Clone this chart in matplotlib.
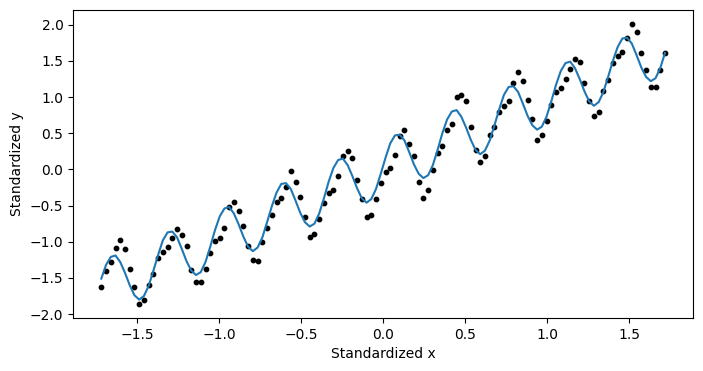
import numpy as np
import matplotlib
matplotlib.use("Agg")
import matplotlib.pyplot as plt

# === 데이터 ===
# standardized x grid (120 evenly spaced samples)
x_std = np.linspace(-1.718, 1.718, 120)

y_obs = [
    -1.62, -1.41, -1.28, -1.08, -0.97, -1.10, -1.37, -1.62, -1.86, -1.80,
    -1.60, -1.44, -1.23, -1.14, -1.07, -0.95, -0.82, -0.90, -1.06, -1.39,
    -1.55, -1.55, -1.37, -1.15, -0.99, -0.95, -0.81, -0.52, -0.45, -0.58,
    -0.78, -1.06, -1.25, -1.26, -1.01, -0.81, -0.63, -0.45, -0.39, -0.24,
    -0.02, -0.17, -0.38, -0.66, -0.93, -0.89, -0.68, -0.46, -0.32, -0.28,
    -0.09, 0.18, 0.25, 0.16, -0.15, -0.41, -0.66, -0.63, -0.41, -0.19,
    -0.03, 0.02, 0.20, 0.46, 0.54, 0.35, 0.19, -0.17, -0.39, -0.28,
    -0.01, 0.22, 0.33, 0.54, 0.63, 1.00, 1.03, 0.94, 0.59, 0.27,
    0.10, 0.18, 0.47, 0.59, 0.79, 0.88, 0.94, 1.20, 1.34, 1.22,
    0.96, 0.69, 0.41, 0.47, 0.67, 0.89, 1.07, 1.13, 1.25, 1.39,
    1.53, 1.48, 1.19, 0.95, 0.74, 0.79, 1.09, 1.24, 1.47, 1.57,
    1.62, 1.82, 2.01, 1.90, 1.61, 1.37, 1.14, 1.14, 1.38, 1.61,
]

# fitted curve
y_fit = [
    -1.51, -1.32, -1.21, -1.19, -1.28, -1.43, -1.60, -1.74, -1.80, -1.75, -1.61, -1.40,
    -1.18, -0.98, -0.87, -0.86, -0.94, -1.10, -1.27, -1.40, -1.46, -1.42, -1.28, -1.07,
    -0.84, -0.65, -0.54, -0.52, -0.61, -0.76, -0.93, -1.07, -1.13, -1.08, -0.94, -0.73,
    -0.51, -0.32, -0.20, -0.19, -0.27, -0.43, -0.60, -0.73, -0.79, -0.75, -0.61, -0.40,
    -0.17, 0.02, 0.13, 0.15, 0.06, -0.09, -0.26, -0.40, -0.46, -0.41, -0.27, -0.06,
    0.16, 0.36, 0.47, 0.48, 0.40, 0.24, 0.07, -0.06, -0.12, -0.08, 0.06, 0.27,
    0.50, 0.69, 0.80, 0.82, 0.73, 0.58, 0.41, 0.27, 0.21, 0.26, 0.40, 0.61,
    0.83, 1.03, 1.14, 1.15, 1.07, 0.91, 0.74, 0.61, 0.55, 0.59, 0.73, 0.94,
    1.17, 1.36, 1.47, 1.49, 1.40, 1.25, 1.08, 0.94, 0.88, 0.93, 1.07, 1.28,
    1.50, 1.69, 1.81, 1.82, 1.74, 1.58, 1.41, 1.28, 1.22, 1.26, 1.40, 1.61,
]

# === 그래프 ===
fig, ax = plt.subplots(figsize=(7.03, 3.71), dpi=100)
fig.subplots_adjust(left=0.104, right=0.986, top=0.973, bottom=0.143)

ax.scatter(x_std, y_obs, s=10, color='black')
ax.plot(x_std, y_fit, color='tab:blue', linewidth=1.5)

ax.set_xlabel("Standardized x")
ax.set_ylabel("Standardized y")

plt.savefig("out.png", dpi=100)
